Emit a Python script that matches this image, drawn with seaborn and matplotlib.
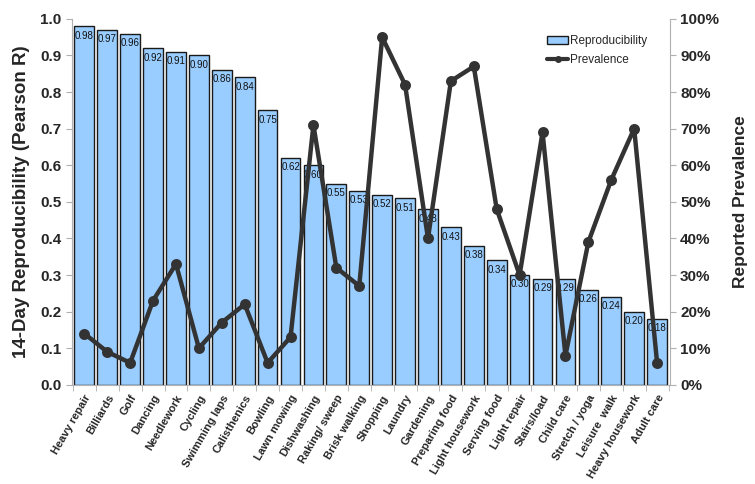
import pandas as pd
import matplotlib
matplotlib.use("Agg")
import matplotlib.pyplot as plt
import seaborn as sns
from matplotlib.patches import Patch
from matplotlib.lines import Line2D
from matplotlib.ticker import FuncFormatter, FixedLocator

# data
activities = ["Heavy repair", "Billiards", "Golf", "Dancing", "Needlework", "Cycling",
              "Swimming laps", "Calisthenics", "Bowling", "Lawn mowing", "Dishwashing",
              "Raking/ sweep", "Brisk walking", "Shopping", "Laundry", "Gardening",
              "Preparing food", "Light housework", "Serving food", "Light repair",
              "Stairs/load", "Child care", "Stretch / yoga", "Leisure  walk",
              "Heavy housework", "Adult care"]
reproducibility = [0.98, 0.97, 0.96, 0.92, 0.91, 0.90, 0.86, 0.84, 0.75, 0.62, 0.60,
                   0.55, 0.53, 0.52, 0.51, 0.48, 0.43, 0.38, 0.34, 0.30, 0.29, 0.29,
                   0.26, 0.24, 0.20, 0.18]
prevalence = [14, 9, 6, 23, 33, 10, 17, 22, 6, 13, 71, 32, 27, 95, 82, 40, 83, 87, 48,
              30, 69, 8, 39, 56, 70, 6]

df = pd.DataFrame({"activity": activities, "r": reproducibility, "prev": prevalence})

sns.set_style("white")
plt.rcParams["font.family"] = ["Liberation Sans", "DejaVu Sans"]

bar_color = "#99CCFF"
line_color = "#333333"
grey = "#b0b0b0"
n = len(activities)

fig = plt.figure(figsize=(7.55, 4.84), dpi=100)
ax = fig.add_axes([0.095, 0.205, 0.792, 0.756])

sns.barplot(data=df, x="activity", y="r", order=activities, color=bar_color,
            edgecolor="#1a1a1a", linewidth=1.0, width=0.86, saturation=1, ax=ax)

# value labels tucked in the top-left corner of each bar
for i, v in enumerate(reproducibility):
    ax.text(i - 0.41, v - 0.012, f"{v:.2f}", ha="left", va="top", fontsize=7,
            color="#111111")

ax.set_ylim(0, 1.0)
ax.set_yticks([i / 10 for i in range(11)])
ax.yaxis.set_major_formatter(FuncFormatter(lambda v, p: f"{v:.1f}"))
ax.set_xlim(-0.55, n - 0.45)
ax.set_xlabel("")
ax.set_ylabel("14-Day Reproducibility (Pearson R)", fontsize=13.5, fontweight="bold",
              labelpad=7)
ax.tick_params(axis="y", labelsize=11, length=4, color=grey, direction="out", left=True)
for lab in ax.get_yticklabels():
    lab.set_fontweight("bold")
ax.set_xticks(range(n))
ax.set_xticklabels(activities, rotation=60, ha="right", rotation_mode="anchor",
                   fontsize=8, fontweight="bold")
ax.tick_params(axis="x", which="major", length=0, pad=6)
# category separators as ticks between bars
ax.xaxis.set_minor_locator(FixedLocator([i - 0.5 for i in range(n + 1)]))
ax.tick_params(axis="x", which="minor", length=4, color=grey, direction="out",
               bottom=True)
for s in ["top", "right"]:
    ax.spines[s].set_visible(False)
ax.spines["left"].set_color(grey)
ax.spines["bottom"].set_color(grey)

ax2 = ax.twinx()
sns.pointplot(data=df, x="activity", y="prev", order=activities, color=line_color,
              markers="o", markersize=5.5, linewidth=3.2, errorbar=None, ax=ax2)
ax2.set_xlim(-0.55, n - 0.45)
ax2.set_ylim(0, 100)
ax2.set_yticks(range(0, 101, 10))
ax2.yaxis.set_major_formatter(FuncFormatter(lambda v, p: f"{int(v)}%"))
ax2.set_ylabel("Reported Prevalence", fontsize=12.5, fontweight="bold", labelpad=10)
ax2.tick_params(axis="y", labelsize=11, length=4, color=grey, direction="out")
for lab in ax2.get_yticklabels():
    lab.set_fontweight("bold")
for s in ["top", "left", "bottom"]:
    ax2.spines[s].set_visible(False)
ax2.spines["right"].set_color(grey)
ax2.set_xlabel("")

handles = [Patch(facecolor=bar_color, edgecolor="#1a1a1a", label="Reproducibility"),
           Line2D([0], [0], color=line_color, lw=3, marker="o", markersize=4,
                  label="Prevalence")]
ax2.legend(handles=handles, loc="upper right", bbox_to_anchor=(0.98, 0.985),
           frameon=False, fontsize=8.5, handlelength=1.8, handletextpad=0.15,
           labelspacing=0.6)

fig.savefig("out.png", dpi=100)
